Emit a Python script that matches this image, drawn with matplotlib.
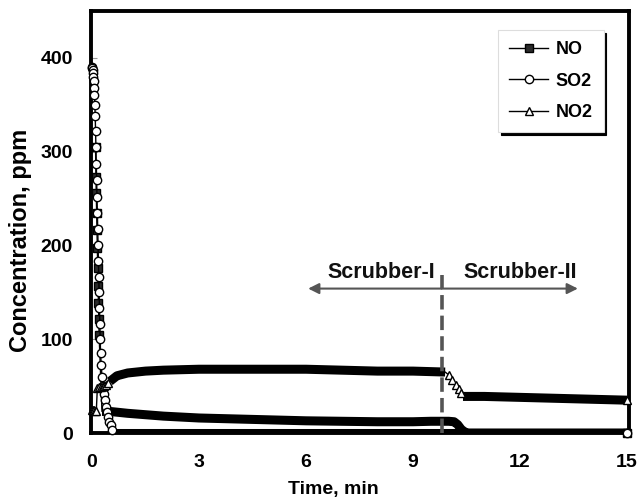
import numpy as np
import matplotlib
matplotlib.use("Agg")
import matplotlib.pyplot as plt
from matplotlib.lines import Line2D

plt.rcParams["font.family"] = ["Liberation Sans", "DejaVu Sans"]
plt.rcParams["font.weight"] = "bold"

# ---------------- data (time in min, concentration in ppm) ----------------
no_t = [0.10, 0.11, 0.12, 0.13, 0.14, 0.15, 0.16, 0.17, 0.18, 0.19, 0.20,
        0.28, 0.5, 1.0, 1.5, 2.0, 3.0, 4.0, 5.0, 6.0, 7.0, 8.0, 9.0, 9.5,
        10.0, 10.15, 10.25, 10.35, 10.45, 10.55, 12.0, 15.0]
no_v = [305, 273, 256, 235, 216, 197, 176, 157, 139, 122, 104,
        23, 23, 21, 19.5, 18, 16, 15, 14, 13, 12.5, 12, 12, 12.5,
        12.5, 12, 9, 4, 1, 0, 0, 0]

so2_t = [0.00, 0.01, 0.02, 0.03, 0.04, 0.05, 0.06, 0.07, 0.08, 0.09, 0.10,
         0.11, 0.12, 0.13, 0.14, 0.15, 0.16, 0.17, 0.18, 0.19, 0.20, 0.21,
         0.22, 0.23, 0.24, 0.26, 0.28, 0.31, 0.34, 0.37, 0.40, 0.43, 0.46,
         0.49, 0.52, 0.56, 0.60, 15.0]
so2_v = [390, 389, 387, 384, 380, 375, 368, 360, 350, 338, 322,
         305, 287, 270, 252, 235, 218, 200, 183, 166, 150, 133,
         116, 100, 85, 72, 60, 50, 42, 35, 28, 22, 17,
         12, 8, 3, 0, 0]

no2_t = [0.00, 0.03, 0.06, 0.09, 0.12, 0.15, 0.20, 0.25, 0.30, 0.35, 0.40,
         0.45, 0.50, 0.6, 0.7, 0.8, 1.0, 1.5, 2.0, 3.0, 4.0, 5.0, 6.0, 7.0,
         8.0, 9.0, 9.9, 10.0, 10.1, 10.2, 10.3, 10.35, 10.4, 11.0, 12.0,
         13.0, 14.0, 15.0]
no2_v = [24, 24, 24, 23, 23, 48, 49, 49, 50, 50, 51,
         53, 55, 58, 61, 62, 64, 66, 67, 68, 68, 68, 68, 67,
         66, 66, 65, 62, 56, 51, 47, 43, 39, 39, 38,
         37, 36, 35]

# time spans in which the 1-s records are so dense that markers merge
no_dense = [(0.28, 15.0)]
so2_dense = [(0.60, 15.0)]
no2_dense = [(0.50, 9.9), (10.4, 15.0)]

switch_time = 9.8          # change-over from Scrubber-I to Scrubber-II
x_ticks = [0, 3, 6, 9, 12, 15]
y_ticks = [0, 100, 200, 300, 400]

# ---------------- figure ----------------
fig = plt.figure(figsize=(6.40, 5.01), dpi=100)
ax = fig.add_axes([91 / 640, 68 / 501, 537.5 / 640, 422 / 501])
ax.set_xlim(-0.028, 15.04)
ax.set_ylim(0, 450)

styles = {
    "NO": dict(marker="s", mfc="#2a2a2a"),
    "SO2": dict(marker="o", mfc="white"),
    "NO2": dict(marker="^", mfc="white"),
}


def draw(t, v, dense, name, z):
    t = np.asarray(t, float)
    v = np.asarray(v, float)
    in_dense = np.zeros(len(t), bool)
    for a, b in dense:
        in_dense |= (t >= a) & (t <= b)
    mark = ~in_dense
    mark[-1] = True
    st = styles[name]
    ax.plot(t, v, color="black", lw=1.0, zorder=z, clip_on=False)
    for a, b in dense:
        m = (t >= a) & (t <= b)
        ax.plot(t[m], v[m], color="black", lw=6.5, solid_capstyle="butt",
                solid_joinstyle="round", zorder=z + 0.1)
    ax.plot(t[mark], v[mark], ls="none", marker=st["marker"], ms=6,
            mfc=st["mfc"], mec="black", mew=1.0, zorder=z + 0.2, clip_on=False)


draw(no_t, no_v, no_dense, "NO", 3)
draw(so2_t, so2_v, so2_dense, "SO2", 4)
draw(no2_t, no2_v, no2_dense, "NO2", 5)

# Scrubber switch marker and annotations
ax.plot([switch_time, switch_time], [0, 168], color="#555555", lw=2.6,
        ls=(0, (4, 1.7)), zorder=6)
arrow_y = 154
for x_end in (6.06, 13.62):
    ax.annotate("", xy=(x_end, arrow_y), xytext=(switch_time, arrow_y),
                arrowprops=dict(arrowstyle="-|>", color="#555555", lw=1.5,
                                mutation_scale=16, shrinkA=0, shrinkB=0),
                zorder=6)
ax.text(8.1, 165, "Scrubber-I", ha="center", va="baseline", fontsize=15.5,
        fontweight="bold", color="#111111")
ax.text(11.99, 165, "Scrubber-II", ha="center", va="baseline", fontsize=15.5,
        fontweight="bold", color="#111111")

# axes styling
for s in ax.spines.values():
    s.set_linewidth(2.8)
    s.set_color("black")
ax.set_xticks(x_ticks)
ax.set_yticks(y_ticks)
ax.set_xticklabels([str(v) for v in x_ticks], fontsize=14, fontweight="bold")
ax.set_yticklabels([str(v) for v in y_ticks], fontsize=14, fontweight="bold")
ax.tick_params(axis="x", direction="in", length=0, pad=15)
ax.tick_params(axis="y", direction="in", length=4, width=0.8, color="#999999", pad=13)

ax.set_xlabel("Time, min", fontsize=14, fontweight="bold", va="center")
ax.xaxis.set_label_coords(0.45, -0.135)
ax.set_ylabel("Concentration, ppm", fontsize=17, fontweight="bold", va="center")
ax.yaxis.set_label_coords(-0.132, 0.457)

handles = [Line2D([], [], color="black", lw=1.0, marker=styles[n]["marker"], ms=6,
                  mfc=styles[n]["mfc"], mec="black", mew=1.0)
           for n in ("NO", "SO2", "NO2")]
leg = ax.legend(handles, ["NO", "SO2", "NO2"], loc="upper right",
                bbox_to_anchor=(0.9535, 0.955), borderaxespad=0,
                prop=dict(size=13, weight="bold"), handlelength=2.2,
                handletextpad=0.4, labelspacing=0.82, borderpad=0.6,
                fancybox=False, frameon=True,
                shadow={"color": "black", "alpha": 1.0})
leg.get_frame().set_edgecolor("#dddddd")
leg.get_frame().set_linewidth(0.8)

fig.savefig("out.png", dpi=100)
